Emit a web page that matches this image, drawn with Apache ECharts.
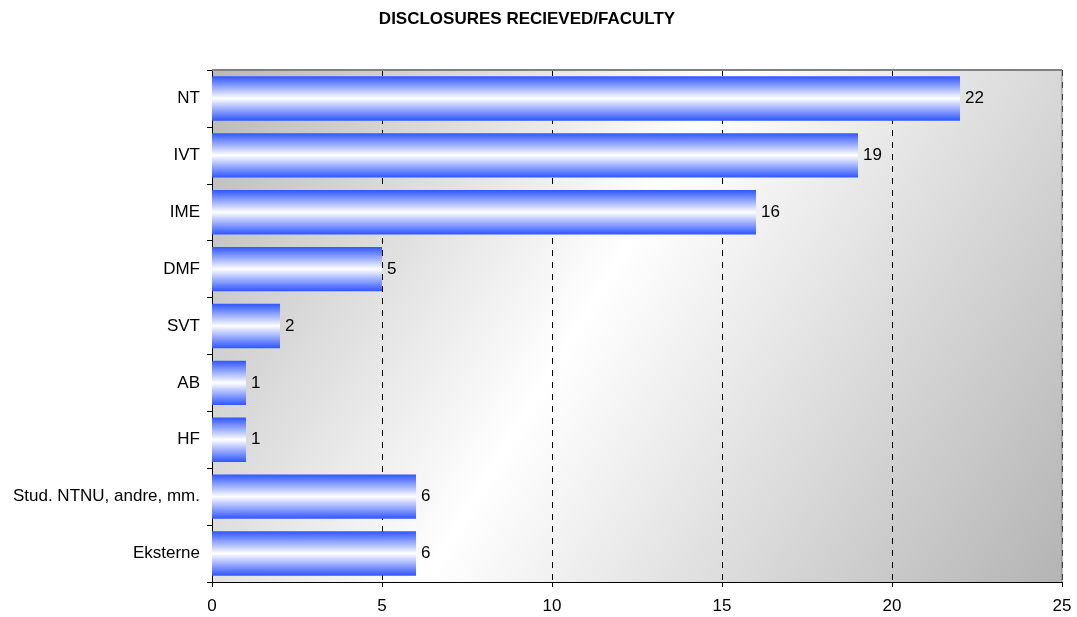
<!DOCTYPE html>
<html><head><meta charset="utf-8">
<script src="https://cdn.jsdelivr.net/npm/echarts@6/dist/echarts.min.js"></script>
<style>html,body{margin:0;padding:0;background:#fff}#c{width:1077px;height:617px}</style>
</head><body><div id="c"></div>
<script>
const categories = ["NT","IVT","IME","DMF","SVT","AB","HF","Stud. NTNU, andre, mm.","Eksterne"];
const values = [22,19,16,5,2,1,1,6,6];
const xTicks = [0,5,10,15,20,25];

const chart = echarts.init(document.getElementById('c'));
const F = '"Liberation Sans", Arial, sans-serif';
chart.setOption({
  animation:false,
  title:{text:'DISCLOSURES RECIEVED/FACULTY',left:522,top:6,textAlign:'center',
    textStyle:{fontFamily:F,fontSize:17,fontWeight:'bold',color:'#000'}},
  grid:{left:212,right:15,top:70,bottom:35,show:true,borderWidth:0,
    backgroundColor:new echarts.graphic.LinearGradient(0,0,1,1,[
      {offset:0,color:'#b8b8b8'},{offset:0.45,color:'#ffffff'},{offset:1,color:'#b4b4b4'}])},
  xAxis:{type:'value',min:xTicks[0],max:xTicks[xTicks.length-1],interval:5,
    axisLine:{show:true,lineStyle:{color:'#000'}},
    axisTick:{show:true,length:5,lineStyle:{color:'#000'}},
    axisLabel:{fontFamily:F,fontSize:17,color:'#000',margin:16},
    splitLine:{show:true,lineStyle:{color:'#000',type:[6,6]}}},
  yAxis:{type:'category',data:categories,inverse:true,
    axisLine:{show:true,lineStyle:{color:'#000'}},
    axisTick:{show:true,length:5,lineStyle:{color:'#000'}},
    axisLabel:{fontFamily:F,fontSize:17,color:'#000',margin:12}},
  series:[{type:'bar',data:values,barCategoryGap:'22%',
    itemStyle:{color:new echarts.graphic.LinearGradient(0,0,0,1,[
      {offset:0,color:'#2f55ff'},{offset:0.5,color:'#ffffff'},{offset:1,color:'#2f55ff'}])},
    label:{show:true,position:'right',distance:5,fontFamily:F,fontSize:17,color:'#000'}}]
});
chart.setOption({graphic:[
  {type:'line',shape:{x1:212,y1:70,x2:1062,y2:70},style:{stroke:'#808080',lineWidth:2},z:100},
  {type:'line',shape:{x1:1062,y1:70,x2:1062,y2:582},style:{stroke:'#808080',lineWidth:1},z:100}
]});
</script></body></html>
